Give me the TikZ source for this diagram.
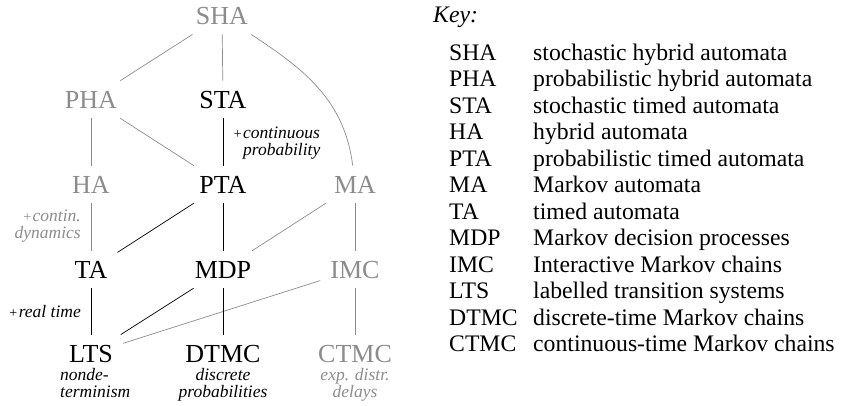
\documentclass[tikz,border=0pt]{standalone}
\usepackage{fontspec}
\setmainfont{Liberation Serif}
\definecolor{fgray}{RGB}{140,140,140}
\newcommand{\plusmark}{{\upshape\fontsize{14}{14}\selectfont+\kern1.5pt}}
\begin{document}
\begin{tikzpicture}[x=1pt,y=-1pt,
  mdl/.style={font=\fontsize{26}{28}\selectfont, inner sep=10pt, anchor=base},
  dim/.style={text=fgray},
  blk/.style={draw=black, line width=0.7pt},
  gry/.style={draw=fgray, line width=0.7pt},
  note/.style={font=\fontsize{17.5}{16.5}\selectfont\itshape, inner sep=0pt},
  keyab/.style={font=\fontsize{23.7}{26}\selectfont, anchor=base west, inner sep=0pt},
]
\useasboundingbox (0,0) rectangle (842,405);

% model nodes
\node[mdl,dim] (SHA)  at (222,24)  {SHA};
\node[mdl,dim] (PHA)  at (91,108)  {PHA};
\node[mdl]     (STA)  at (223,108) {STA};
\node[mdl,dim] (HA)   at (91,193)  {HA};
\node[mdl]     (PTA)  at (223,193) {PTA};
\node[mdl,dim] (MA)   at (355,193) {MA};
\node[mdl]     (TA)   at (91,278)  {TA};
\node[mdl]     (MDP)  at (223,278) {MDP};
\node[mdl,dim] (IMC)  at (355,278) {IMC};
\node[mdl]     (LTS)  at (91,362)  {LTS};
\node[mdl]     (DTMC) at (223,362) {DTMC};
\node[mdl,dim] (CTMC) at (355,362) {CTMC};

% connectors
\draw[gry] (SHA) -- (PHA);
\draw[gry] (SHA) -- (STA);
\draw[gry] (SHA) to[out=-33,in=97] (MA);
\draw[gry] (PHA) -- (HA);
\draw[gry] (PHA) -- (PTA);
\draw[blk] (STA) -- (PTA);
\draw[gry] (HA) -- (TA);
\draw[blk] (PTA) -- (TA);
\draw[blk] (PTA) -- (MDP);
\draw[gry] (MA) -- (MDP);
\draw[gry] (MA) -- (IMC);
\draw[blk] (TA) -- (LTS);
\draw[blk] (MDP) -- (LTS);
\draw[gry] (IMC) -- (LTS);
\draw[blk] (MDP) -- (DTMC);
\draw[gry] (IMC) -- (CTMC);

% edge labels (base anchor = baseline of last line)
\node[note, align=left, anchor=base west] (lblcp) at (243,155) {\llap{\plusmark}continuous\\probability};
\node[note, dim, align=right, anchor=base east] (lblcd) at (81,238) {\plusmark contin.\\dynamics};
\node[note, align=right, anchor=base east] (lblrt) at (81,317) {\plusmark real time};

% sub labels
\node[note, align=left, anchor=base west] (sublts) at (60,397) {nonde-\\terminism};
\node[note, align=center, anchor=base] (subdtmc) at (223,397) {discrete\\probabilities};
\node[note, dim, align=center, anchor=base] (subctmc) at (355,397) {exp. distr.\\delays};

% key
\node[font=\fontsize{23.7}{26}\selectfont\itshape, anchor=base west, inner sep=0pt] (keyhead) at (433,22) {Key:};
\foreach \ab/\ds [count=\i] in {
  SHA/stochastic hybrid automata,
  PHA/probabilistic hybrid automata,
  STA/stochastic timed automata,
  HA/hybrid automata,
  PTA/probabilistic timed automata,
  MA/Markov automata,
  TA/timed automata,
  MDP/Markov decision processes,
  IMC/Interactive Markov chains,
  LTS/labelled transition systems,
  DTMC/discrete-time Markov chains,
  CTMC/continuous-time Markov chains}{
  \node[keyab] (ka\i) at (449,{33.5+26.5*\i}) {\ab};
  \node[keyab] (kd\i) at (533,{33.5+26.5*\i}) {\ds};
}
\end{tikzpicture}
\end{document}
